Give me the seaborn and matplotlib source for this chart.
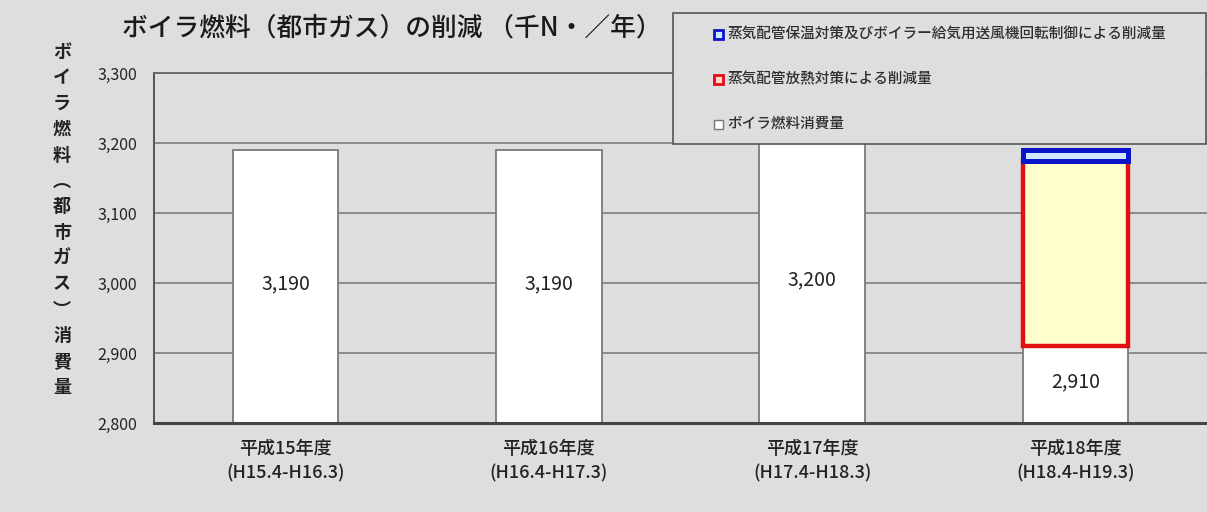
import matplotlib
matplotlib.use("Agg")
import matplotlib.pyplot as plt
import pandas as pd
import seaborn as sns
from matplotlib.patches import Rectangle

# ---- data -------------------------------------------------------------
years = ["平成15年度", "平成16年度", "平成17年度", "平成18年度"]
periods = ["(H15.4-H16.3)", "(H16.4-H17.3)", "(H17.4-H18.3)", "(H18.4-H19.3)"]
consumption = [3190, 3190, 3200, 2910]        # ボイラ燃料消費量
heat_loss_cut = [0, 0, 0, 265]                # 蒸気配管放熱対策による削減量
insulation_blower_cut = [0, 0, 0, 15]         # 保温対策・送風機回転制御による削減量
yticks = [2800, 2900, 3000, 3100, 3200, 3300]

title = "ボイラ燃料（都市ガス）の削減 （千N・／年）"
ylabel_chars = list("ボイラ燃料︵都市ガス︶消費量")
legend_labels = [
    "蒸気配管保温対策及びボイラー給気用送風機回転制御による削減量",
    "蒸気配管放熱対策による削減量",
    "ボイラ燃料消費量",
]

# ---- style ------------------------------------------------------------
sns.set_theme(style="white")
plt.rcParams["font.family"] = ["Noto Sans CJK JP", "DejaVu Sans"]

BG = "#dedede"
TXT = "#222222"
W, H = 1207, 512


def fx(px):
    return px / W


def fy(py):
    return 1 - py / H


fig = plt.figure(figsize=(W / 100, H / 100), dpi=100, facecolor=BG)
ax = fig.add_axes([fx(154), fy(423), fx(1207) - fx(154), fy(73) - fy(423)])
ax.set_facecolor(BG)

labels = [f"{y}\n{p}" for y, p in zip(years, periods)]
df = pd.DataFrame({
    "label": labels,
    "consumption": consumption,
    "heat": heat_loss_cut,
    "blower": insulation_blower_cut,
})
df["heat_base"] = df["consumption"]
df["blower_base"] = df["consumption"] + df["heat"]
stack = df[df["heat"] > 0]

# white consumption bars
sns.barplot(data=df, x="label", y="consumption", order=labels, color="white",
            saturation=1, width=0.4, errorbar=None, edgecolor="#7a7a7a",
            linewidth=1.3, ax=ax)
# reduction by heat-loss measures (stacked on top)
sns.barplot(data=stack, x="label", y="heat", order=labels, color="#ffffcc",
            saturation=1, width=0.4, errorbar=None, edgecolor="#e01010",
            linewidth=3.2, bottom=stack["heat_base"].to_numpy(), ax=ax)
# reduction by insulation + blower speed control
sns.barplot(data=stack, x="label", y="blower", order=labels, color="#cfe6ff",
            saturation=1, width=0.4, errorbar=None, edgecolor="#0a14c8",
            linewidth=3.6, bottom=stack["blower_base"].to_numpy(), ax=ax)

ax.set_ylim(2800, 3300)
ax.set_xlim(-0.5, -0.5 + (1207 - 154) / 265)
ax.set_yticks(yticks)
ax.set_yticklabels([f"{v:,}" for v in yticks], fontsize=11.5, color=TXT)
ax.set_xticks(range(len(labels)))
ax.set_xticklabels(labels, fontsize=13, color=TXT, linespacing=1.5,
                   fontweight="medium")
ax.set_xticks([0.5, 1.5, 2.5, 3.5], minor=True)
ax.tick_params(axis="y", length=0, pad=12)
ax.tick_params(axis="x", which="major", length=0, pad=12)
ax.tick_params(axis="x", which="minor", direction="in", length=5,
               width=1, color="#555555")
ax.set_xlabel("")
ax.set_ylabel("")

ax.set_axisbelow(True)
ax.yaxis.grid(True, color="#7c7c7c", linewidth=1.2)
ax.xaxis.grid(False)
for side, lw, col in [("left", 1.4, "#555555"), ("bottom", 2.2, "#444444"),
                      ("top", 1.3, "#666666")]:
    ax.spines[side].set_visible(True)
    ax.spines[side].set_color(col)
    ax.spines[side].set_linewidth(lw)
ax.spines["right"].set_visible(False)

# value labels centred in the visible white part of each bar
low = ax.get_ylim()[0]
for i, v in enumerate(consumption):
    ax.text(i, (low + v) / 2 + 4, f"{v:,}", ha="center", va="center",
            fontsize=14, color=TXT)

# title
fig.text(fx(122), fy(28), title, fontsize=18.5, ha="left", va="center",
         color="#1a1a1a", fontweight="medium")

# vertical y-axis label, one character per row
for k, ch in enumerate(ylabel_chars):
    fig.text(fx(62), fy(52 + k * 25.8), ch, fontsize=13, ha="center",
             va="center", color=TXT, fontweight="bold")

# legend box
fig.add_artist(Rectangle((fx(673), fy(144)), fx(1206) - fx(673),
                         fy(12.7) - fy(144), transform=fig.transFigure,
                         facecolor=BG, edgecolor="#555555", linewidth=1.2,
                         zorder=5))
legend_styles = [("#cfe6ff", "#0a14c8", 2.0), ("#ffd6d6", "#e01010", 2.0),
                 ("white", "#777777", 1.0)]
for k, (lab, (fc, ec, lw)) in enumerate(zip(legend_labels, legend_styles)):
    yc = 34 + k * 45
    fig.add_artist(Rectangle((fx(714), fy(yc + 4.5)), fx(9), 9 / H,
                             transform=fig.transFigure, facecolor=fc,
                             edgecolor=ec, linewidth=lw, zorder=6))
    fig.text(fx(727), fy(yc), lab, fontsize=10.5, ha="left", va="center",
             color="#2e2e2e", zorder=7, fontweight="medium")

fig.savefig("out.png", dpi=100, facecolor=BG)
